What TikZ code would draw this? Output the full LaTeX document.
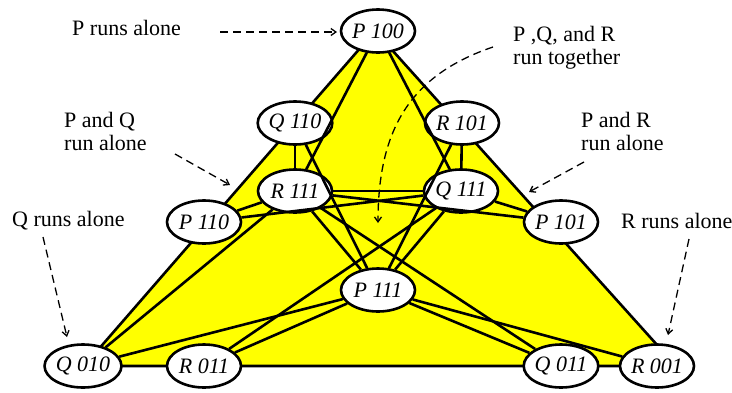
\documentclass[tikz,border=0pt]{standalone}
\usepackage{fontspec}
\setmainfont{Liberation Serif}
\usetikzlibrary{arrows.meta,shapes.geometric}
\definecolor{tri}{RGB}{255,255,0}
\begin{document}
\begin{tikzpicture}[x=1pt,y=-1pt,
  state/.style={ellipse,draw,line width=2.6pt,fill=white,minimum width=74pt,minimum height=43pt,inner sep=0pt,font=\fontsize{22}{24}\selectfont\itshape},
  edge/.style={line width=2.6pt},
  note/.style={anchor=west,align=left,inner sep=0pt,font=\fontsize{22}{23}\selectfont},
  pointer/.style={line width=1.3pt,dash pattern=on 8pt off 5pt,-{Straight Barb[length=5pt,width=7pt]}}]
\useasboundingbox (0,0) rectangle (732,392);
% yellow triangle
\draw[fill=tri,line width=2.6pt] (84,366) -- (375,31) -- (676,366) -- cycle;
% states
\node[state] (P100) at (378,31) {P 100};
\node[state] (Q110) at (295,123) {Q 110};
\node[state] (R101) at (462,123) {R 101};
\node[state] (R111) at (295,191) {R 111};
\node[state] (Q111) at (461,191) {Q 111};
\node[state] (P110) at (204,222) {P 110};
\node[state] (P101) at (561,222) {P 101};
\node[state] (P111) at (378,290) {P 111};
\node[state] (Q010) at (83,366) {Q 010};
\node[state] (R011) at (204,366) {R 011};
\node[state] (Q011) at (561,366) {Q 011};
\node[state] (R001) at (657,366) {R 001};
% transitions
\draw[edge] (P100) -- (R111);
\draw[edge] (P100) -- (Q111);
\draw[edge] (Q110) -- (R111);
\draw[edge] (Q110) -- (P111);
\draw[edge] (R101) -- (Q111);
\draw[edge] (R101) -- (P111);
\draw[edge] (R111) -- (Q111);
\draw[edge] (R111) -- (P110);
\draw[edge] (R111) -- (P101);
\draw[edge] (Q111) -- (P110);
\draw[edge] (Q111) -- (P101);
\draw[edge] (R111) -- (P111);
\draw[edge] (Q111) -- (P111);
\draw[edge] (R111) -- (Q011);
\draw[edge] (Q111) -- (R011);
\draw[edge] (R111) -- (Q010);
\draw[edge] (Q010) -- (P111);
\draw[edge] (R011) -- (P111);
\draw[edge] (Q011) -- (P111);
\draw[edge] (R001) -- (P111);
% annotations
\node[note] (tP) at (72,28) {P runs alone};
\node[note] (tPQ) at (64,131) {P and Q\\run alone};
\node[note] (tQ) at (12,221) {Q runs alone};
\node[note] (tPQR) at (513,48) {P ,Q, and R\\run together};
\node[note] (tPR) at (581,131) {P and R\\run alone};
\node[note] (tR) at (621,221) {R runs alone};
\coordinate (a1s) at (220,32);  \coordinate (a1e) at (337,32);
\coordinate (a2s) at (175,154); \coordinate (a2e) at (230,185);
\coordinate (a3s) at (43,237);  \coordinate (a3e) at (67,337);
\coordinate (a4s) at (493,47);  \coordinate (a4e) at (378,223);
\coordinate (a5s) at (584,162); \coordinate (a5e) at (529,192);
\coordinate (a6s) at (689,239); \coordinate (a6e) at (668,335);
\draw[pointer] (a1s) -- (a1e);
\draw[pointer] (a2s) -- (a2e);
\draw[pointer] (a3s) -- (a3e);
\draw[pointer] (a4s) .. controls (410,75) and (378,130) .. (a4e);
\draw[pointer] (a5s) -- (a5e);
\draw[pointer] (a6s) -- (a6e);
\end{tikzpicture}
\end{document}
